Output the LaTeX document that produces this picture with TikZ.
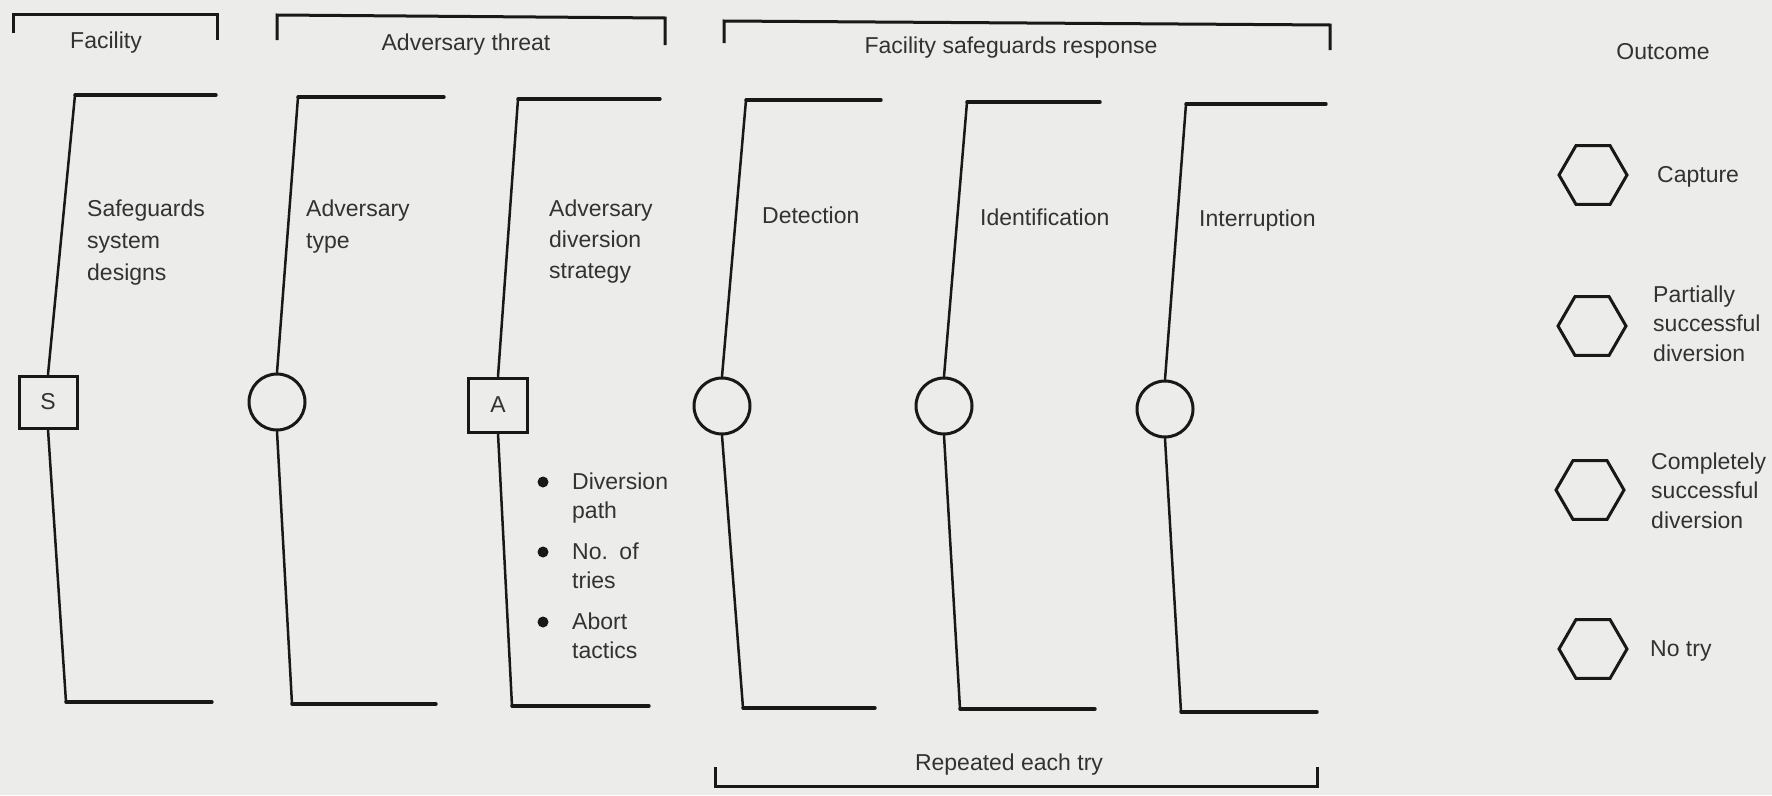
\documentclass[tikz,border=0pt]{standalone}
\usepackage{fontspec}
\setmainfont{Liberation Sans}
\usetikzlibrary{shapes.geometric}
\definecolor{paper}{RGB}{236,236,234}
\definecolor{ink}{RGB}{24,24,24}
\definecolor{print}{RGB}{50,50,50}

\begin{document}
\begin{tikzpicture}[x=1pt,y=-1pt,
  lbl/.style={text=print, font=\fontsize{23}{30}\selectfont, inner sep=0pt},
  stagelbl/.style={lbl, font=\fontsize{23}{32}\selectfont, anchor=base west, text width=160pt, align=left},
  outlbl/.style={lbl, font=\fontsize{23}{29.5}\selectfont, anchor=base west, text width=120pt, align=left},
  itemlbl/.style={lbl, font=\fontsize{23}{29}\selectfont, anchor=base west, text width=110pt, align=left},
  decbox/.style={rectangle, draw=ink, line width=3pt, minimum width=58pt, minimum height=52pt, inner sep=0pt, text=print, font=\fontsize{23}{28}\selectfont},
  chance/.style={circle, draw=ink, line width=3pt, minimum size=56pt, inner sep=0pt},
  outcome/.style={regular polygon, regular polygon sides=6, draw=ink, line width=3pt, minimum size=68pt, inner sep=0pt},
  dot/.style={circle, fill=ink, minimum size=11pt, inner sep=0pt},
  rail/.style={draw=ink, line width=3.4pt, line cap=round},
  stem/.style={draw=ink, line width=2.5pt, line cap=round},
  brk/.style={draw=ink, line width=3pt, line join=miter},
]
% paper and page frame
\fill[paper] (0,0) rectangle (1772,795);
\useasboundingbox (0,0) rectangle (1772,795);

% ---- group brackets along the top and bottom
\draw[brk] (13,33) -- (13,14) -- (217,14) -- (217,40);
\node[lbl, anchor=base] (facility) at (106,48) {Facility};

\draw[brk] (277,40) -- (277,15) -- (665,18) -- (665,45);
\node[lbl, anchor=base] (threat) at (466,50) {Adversary threat};

\draw[brk] (724,43) -- (724,21) -- (1330,25) -- (1330,50);
\node[lbl, anchor=base] (response) at (1011,53) {Facility safeguards response};

\node[lbl, anchor=base] (outcomehead) at (1663,59) {Outcome};

\draw[brk] (715,767) -- (715,786) -- (1317,786) -- (1317,767);
\node[lbl, anchor=base] (repeat) at (1009,770) {Repeated each try};

% ---- stage 1: safeguards system designs
\coordinate (t1l) at (75,95);   \coordinate (t1r) at (216,95);
\coordinate (b1l) at (66,702);  \coordinate (b1r) at (212,702);
\node[decbox] (S) at (48,402) {S};
\draw[rail] (t1l) -- (t1r);
\draw[stem] (t1l) -- (S.north);
\draw[stem] (S.south) -- (b1l);
\draw[rail] (b1l) -- (b1r);
\node[stagelbl] (l1) at (87,216) {Safeguards\\system\\designs};

% ---- stage 2: adversary type
\coordinate (t2l) at (298,97);  \coordinate (t2r) at (444,97);
\coordinate (b2l) at (292,704); \coordinate (b2r) at (436,704);
\node[chance] (c2) at (277,402) {};
\draw[rail] (t2l) -- (t2r);
\draw[stem] (t2l) -- (c2.north);
\draw[stem] (c2.south) -- (b2l);
\draw[rail] (b2l) -- (b2r);
\node[stagelbl] (l2) at (306,216) {Adversary\\type};

% ---- stage 3: adversary diversion strategy
\coordinate (t3l) at (518,99);  \coordinate (t3r) at (660,99);
\coordinate (b3l) at (512,706); \coordinate (b3r) at (649,706);
\node[decbox, minimum width=59pt, minimum height=54pt] (A) at (498,405) {A};
\draw[rail] (t3l) -- (t3r);
\draw[stem] (t3l) -- (A.north);
\draw[stem] (A.south) -- (b3l);
\draw[rail] (b3l) -- (b3r);
\node[stagelbl, font=\fontsize{23}{31}\selectfont] (l3) at (549,216) {Adversary\\diversion\\strategy};

\node[dot] (d1) at (543,482) {};
\node[itemlbl] (i1) at (572,489) {Diversion\\path};
\node[dot] (d2) at (543,552) {};
\node[itemlbl] (i2) at (572,559) {No. of\\tries};
\node[dot] (d3) at (543,622) {};
\node[itemlbl] (i3) at (572,629) {Abort\\tactics};

% ---- stage 4: detection
\coordinate (t4l) at (746,100); \coordinate (t4r) at (881,100);
\coordinate (b4l) at (743,708); \coordinate (b4r) at (875,708);
\node[chance] (c4) at (722,406) {};
\draw[rail] (t4l) -- (t4r);
\draw[stem] (t4l) -- (c4.north);
\draw[stem] (c4.south) -- (b4l);
\draw[rail] (b4l) -- (b4r);
\node[lbl, anchor=base west] (l4) at (762,223) {Detection};

% ---- stage 5: identification
\coordinate (t5l) at (967,102); \coordinate (t5r) at (1100,102);
\coordinate (b5l) at (960,709); \coordinate (b5r) at (1095,709);
\node[chance] (c5) at (944,406) {};
\draw[rail] (t5l) -- (t5r);
\draw[stem] (t5l) -- (c5.north);
\draw[stem] (c5.south) -- (b5l);
\draw[rail] (b5l) -- (b5r);
\node[lbl, anchor=base west] (l5) at (980,225) {Identification};

% ---- stage 6: interruption
\coordinate (t6l) at (1186,104); \coordinate (t6r) at (1326,104);
\coordinate (b6l) at (1181,712); \coordinate (b6r) at (1317,712);
\node[chance] (c6) at (1165,409) {};
\draw[rail] (t6l) -- (t6r);
\draw[stem] (t6l) -- (c6.north);
\draw[stem] (c6.south) -- (b6l);
\draw[rail] (b6l) -- (b6r);
\node[lbl, anchor=base west] (l6) at (1199,226) {Interruption};

% ---- outcomes
\node[outcome] (o1) at (1593,175) {};
\node[lbl, anchor=base west] (ol1) at (1657,182) {Capture};
\node[outcome] (o2) at (1592,326) {};
\node[outlbl] (ol2) at (1653,302) {Partially\\successful\\diversion};
\node[outcome] (o3) at (1590,490) {};
\node[outlbl] (ol3) at (1651,469) {Completely\\successful\\diversion};
\node[outcome] (o4) at (1593,649) {};
\node[lbl, anchor=base west] (ol4) at (1650,656) {No try};
\end{tikzpicture}
\end{document}
